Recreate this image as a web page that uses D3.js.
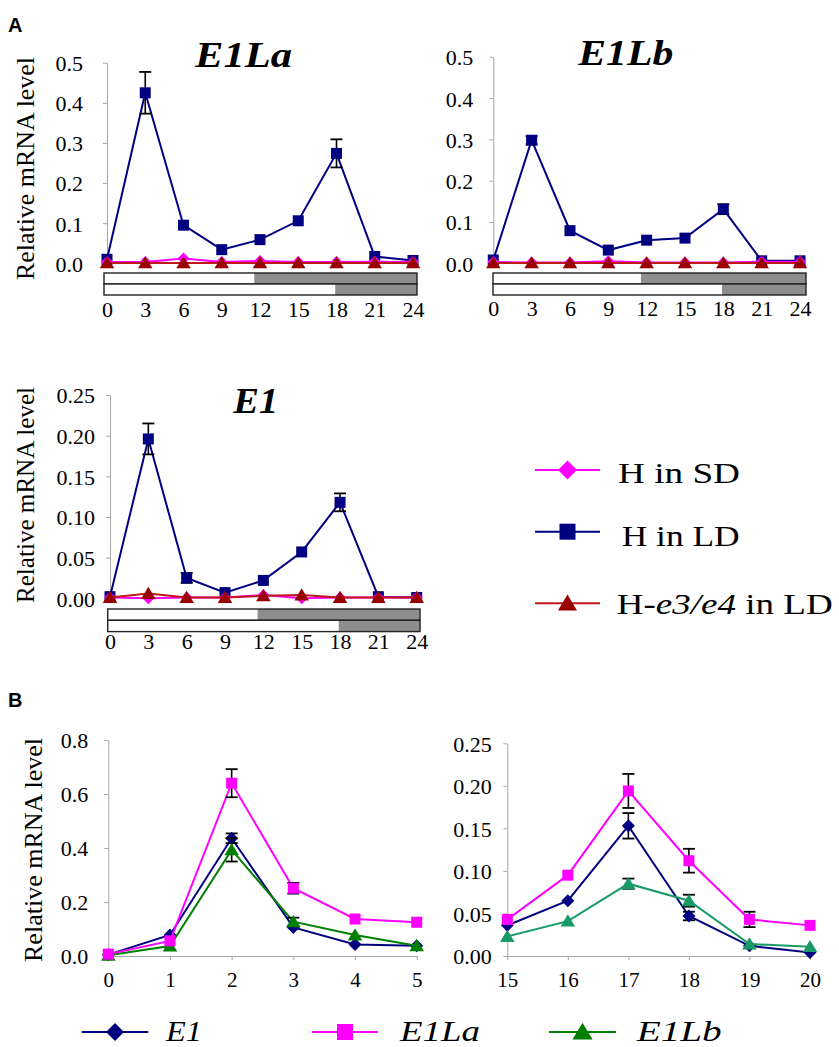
<!DOCTYPE html>
<html><head><meta charset="utf-8">
<script src="https://cdn.jsdelivr.net/npm/d3@7"></script>
<style>body{margin:0;background:#fff} svg{display:block}</style>
</head><body>
<svg id="c" width="839" height="1047"></svg>
<script>
// ---------- DATA ----------
const hoursA = [0, 3, 6, 9, 12, 15, 18, 21, 24];
const seriesNamesA = ["H in SD", "H in LD", "H-e3/e4 in LD"];

// E1La
const e1laSD   = [0.003, 0.003, 0.012, 0.003, 0.006, 0.003, 0.003, 0.004, 0.003];
const e1laLD   = [0.010, 0.425, 0.095, 0.034, 0.059, 0.106, 0.274, 0.017, 0.007];
const e1laLDerr= [0.002, 0.052, 0.006, 0.004, 0.005, 0.006, 0.035, 0.002, 0.002];
const e1laE34  = [0.001, 0.001, 0.001, 0.001, 0.001, 0.001, 0.001, 0.001, 0.001];
// E1Lb
const e1lbSD   = [0.003, 0.002, 0.002, 0.005, 0.002, 0.002, 0.002, 0.004, 0.004];
const e1lbLD   = [0.008, 0.298, 0.079, 0.032, 0.056, 0.061, 0.131, 0.006, 0.006];
const e1lbLDerr= [0.002, 0.010, 0.004, 0.003, 0.003, 0.004, 0.012, 0.001, 0.001];
const e1lbE34  = [0.001, 0.001, 0.001, 0.001, 0.001, 0.001, 0.001, 0.001, 0.001];
// E1
const e1SD     = [0.001, 0.000, 0.001, 0.001, 0.004, 0.000, 0.001, 0.001, 0.001];
const e1LD     = [0.002, 0.196, 0.025, 0.007, 0.022, 0.057, 0.118, 0.002, 0.001];
const e1LDerr  = [0.001, 0.019, 0.006, 0.002, 0.002, 0.003, 0.011, 0.001, 0.001];
const e1E34    = [0.001, 0.006, 0.001, 0.001, 0.003, 0.004, 0.001, 0.001, 0.001];

// light/dark bars: end of light period (SD row, LD row)
const lightEnd = [11.55, 17.9];

// Panel B
const hoursB1 = [0, 1, 2, 3, 4, 5];
const hoursB2 = [15, 16, 17, 18, 19, 20];
const seriesNamesB = ["E1", "E1La", "E1Lb"];
const b1E1     = [0.005, 0.078, 0.436, 0.106, 0.043, 0.038];
const b1E1err  = [0.002, 0.010, 0.018, 0.010, 0.006, 0.005];
const b1E1La   = [0.007, 0.056, 0.640, 0.251, 0.137, 0.125];
const b1E1Laerr= [0.003, 0.010, 0.052, 0.020, 0.008, 0.008];
const b1E1Lb   = [0.003, 0.037, 0.393, 0.127, 0.078, 0.038];
const b1E1Lberr= [0.002, 0.006, 0.043, 0.015, 0.008, 0.004];

const b2E1     = [0.036, 0.065, 0.153, 0.047, 0.012, 0.004];
const b2E1err  = [0.004, 0.004, 0.015, 0.005, 0.002, 0.002];
const b2E1La   = [0.043, 0.095, 0.194, 0.112, 0.043, 0.036];
const b2E1Laerr= [0.004, 0.004, 0.020, 0.014, 0.009, 0.004];
const b2E1Lb   = [0.023, 0.041, 0.085, 0.065, 0.014, 0.011];
const b2E1Lberr= [0.002, 0.002, 0.006, 0.007, 0.002, 0.004];

const ticksA  = [0, 0.1, 0.2, 0.3, 0.4, 0.5];
const ticksE1 = [0, 0.05, 0.10, 0.15, 0.20, 0.25];
const ticksB1 = [0, 0.2, 0.4, 0.6, 0.8];
const ticksB2 = [0, 0.05, 0.10, 0.15, 0.20, 0.25];

// ---------- STYLE ----------
const NAVY = "#000080", MAG = "#ff00ff", DRED = "#990000", RLINE = "#c01818";
const GREEN = "#008000", TEAL = "#179a66";
const GRAY = "#a6a6a6";

function pickFont(cands, generic) {
  const ctx = document.createElement("canvas").getContext("2d");
  const probe = "Relative mRNA level 0.123456789";
  const base = {};
  ["monospace", "sans-serif"].forEach(f => { ctx.font = "40px " + f; base[f] = ctx.measureText(probe).width; });
  for (const c of cands) {
    let ok = false;
    for (const f of ["monospace", "sans-serif"]) {
      ctx.font = `40px "${c}", ${f}`;
      if (Math.abs(ctx.measureText(probe).width - base[f]) > 0.5) ok = true;
    }
    if (ok) return `"${c}", ${generic}`;
  }
  return generic;
}
const SERIF = pickFont(["Liberation Serif", "Times New Roman", "Tinos", "Nimbus Roman", "FreeSerif", "Noto Serif", "DejaVu Serif"], "serif");
const SANS = pickFont(["Liberation Sans", "Arial", "Arimo", "Helvetica"], "sans-serif");
// Times-like advance widths for numeric labels (em)
function numWidth(str, size) {
  let w = 0;
  for (const ch of str) w += (ch === "." ? 0.25 : 0.5);
  return w * size;
}

const svg = d3.select("#c");

function marker(g, shape, cx, cy, s, fill) {
  if (shape === "square") {
    g.append("rect").attr("x", cx - s/2).attr("y", cy - s/2).attr("width", s).attr("height", s).attr("fill", fill);
  } else if (shape === "diamond") {
    g.append("path").attr("d", `M${cx},${cy - s/2}L${cx + s/2},${cy}L${cx},${cy + s/2}L${cx - s/2},${cy}Z`).attr("fill", fill);
  } else {
    g.append("path").attr("d", `M${cx},${cy - s*0.52}L${cx + s*0.56},${cy + s*0.42}L${cx - s*0.56},${cy + s*0.42}Z`).attr("fill", fill);
  }
}

function panel(cfg) {
  const g = svg.append("g");
  const x = d3.scaleLinear().domain(cfg.xDomain).range(cfg.xRange);
  const y = d3.scaleLinear().domain(cfg.yDomain).range(cfg.yRange);

  // y axis
  const ya = g.append("g").attr("transform", `translate(${cfg.xRange[0]},0)`)
    .call(d3.axisLeft(y).tickValues(cfg.yTicks).tickFormat(d3.format(cfg.yFmt))
      .tickSize(4).tickSizeOuter(0).tickPadding(cfg.labelGap - 4));
  ya.attr("font-family", null).attr("font-size", null);
  ya.select(".domain").attr("stroke", GRAY).attr("stroke-width", 1);
  ya.selectAll(".tick line").attr("stroke", GRAY);
  ya.selectAll("text").style("font-family", SERIF).style("font-size", cfg.yFont + "px").attr("fill", "#000")
    .attr("dy", "0.36em")
    .attr("textLength", function() { return numWidth(this.textContent, cfg.yFont); })
    .attr("lengthAdjust", "spacingAndGlyphs");

  // x axis
  const xa = g.append("g").attr("transform", `translate(0,${cfg.yRange[0]})`)
    .call(d3.axisBottom(x).tickValues(cfg.xTicks).tickFormat(d3.format("d"))
      .tickSize(cfg.xTickSize).tickSizeOuter(0));
  xa.attr("font-family", null).attr("font-size", null);
  xa.select(".domain").attr("stroke", cfg.xLine ? GRAY : "none");
  xa.selectAll(".tick line").attr("stroke", GRAY);
  xa.selectAll("text").style("font-family", SERIF).style("font-size", cfg.xFont + "px").attr("fill", "#000")
    .attr("y", cfg.xLabelBase - cfg.yRange[0]).attr("dy", 0)
    .attr("textLength", function() { return numWidth(this.textContent, cfg.xFont); })
    .attr("lengthAdjust", "spacingAndGlyphs");

  // light/dark bars
  if (cfg.bars) {
    const b = cfg.bars;
    lightEnd.forEach((le, i) => {
      const top = b.y + i * b.h;
      g.append("rect").attr("x", b.x0).attr("y", top).attr("width", x(le) - b.x0).attr("height", b.h).attr("fill", "#fff");
      g.append("rect").attr("x", x(le)).attr("y", top).attr("width", b.x1 - x(le)).attr("height", b.h).attr("fill", "#8e8e8e");
      g.append("rect").attr("x", b.x0).attr("y", top).attr("width", b.x1 - b.x0).attr("height", b.h)
        .attr("fill", "none").attr("stroke", "#222").attr("stroke-width", 1.4);
    });
  }

  // series
  cfg.series.forEach(s => {
    const pts = cfg.xTicks.map((h, i) => [h, s.values[i]]);
    g.append("path").datum(pts)
      .attr("d", d3.line().x(d => x(d[0])).y(d => y(d[1])))
      .attr("fill", "none").attr("stroke", s.line).attr("stroke-width", 2);
    if (s.err) {
      pts.forEach((p, i) => {
        const e = s.err[i];
        if (e * Math.abs(y(0) - y(1)) < 4) return;
        const cx = x(p[0]);
        const yt = y(p[1] + e), yb = y(p[1] - e);
        g.append("line").attr("x1", cx).attr("x2", cx).attr("y1", yt).attr("y2", yb).attr("stroke", "#000").attr("stroke-width", 1.6);
        [yt, yb].forEach(yy => g.append("line").attr("x1", cx - 6).attr("x2", cx + 6).attr("y1", yy).attr("y2", yy)
          .attr("stroke", "#000").attr("stroke-width", 1.8));
      });
    }
    pts.forEach(p => marker(g, s.shape, x(p[0]), y(p[1]), s.size, s.fill));
  });

  // title
  if (cfg.title) {
    g.append("text").attr("x", cfg.title.x).attr("y", cfg.title.y)
      .style("font-family", SERIF).attr("font-weight", "bold").attr("font-style", "italic")
      .attr("font-size", cfg.title.size).attr("textLength", cfg.title.w).attr("lengthAdjust", "spacingAndGlyphs")
      .text(cfg.title.text);
  }
  // y label
  if (cfg.ylabel) {
    const l = cfg.ylabel;
    g.append("text").attr("transform", `translate(${l.x},${l.y}) rotate(-90)`)
      .attr("text-anchor", "middle").attr("dy", "0.35em")
      .style("font-family", SERIF).attr("font-size", 25)
      .attr("textLength", l.len).attr("lengthAdjust", "spacingAndGlyphs")
      .text("Relative mRNA level");
  }
}

function seriesA(sd, ld, lderr, e34) {
  return [
    { values: ld, err: lderr, line: NAVY, fill: NAVY, shape: "square", size: 11 },
    { values: sd, err: null, line: MAG, fill: MAG, shape: "diamond", size: 12 },
    { values: e34, err: null, line: RLINE, fill: DRED, shape: "triangle", size: 13 }
  ];
}

panel({
  xDomain: [0, 24], xRange: [107, 413], yDomain: [0, 0.5], yRange: [263.3, 62.7],
  xTicks: hoursA, yTicks: ticksA, yFmt: ".1f", labelGap: 24, yFont: 22, xFont: 22,
  xTickSize: 0, xLine: false, xLabelBase: 317.5,
  bars: { x0: 104, x1: 417, y: 273, h: 11 },
  series: seriesA(e1laSD, e1laLD, e1laLDerr, e1laE34),
  title: { text: "E1La", x: 195, y: 66.7, size: 35, w: 97 },
  ylabel: { x: 25, y: 168.5, len: 223 }
});
panel({
  xDomain: [0, 24], xRange: [493.3, 800], yDomain: [0, 0.5], yRange: [263.3, 56.8],
  xTicks: hoursA, yTicks: ticksA, yFmt: ".1f", labelGap: 20, yFont: 22, xFont: 22,
  xTickSize: 0, xLine: false, xLabelBase: 316,
  bars: { x0: 493, x1: 806, y: 273, h: 11 },
  series: seriesA(e1lbSD, e1lbLD, e1lbLDerr, e1lbE34),
  title: { text: "E1Lb", x: 578.3, y: 65, size: 35, w: 95 }
});
panel({
  xDomain: [0, 24], xRange: [110, 416.7], yDomain: [0, 0.25], yRange: [598.3, 395],
  xTicks: hoursA, yTicks: ticksE1, yFmt: ".2f", labelGap: 15, yFont: 22, xFont: 22,
  xTickSize: 0, xLine: false, xLabelBase: 649.5,
  bars: { x0: 107.7, x1: 420, y: 609, h: 11.3 },
  series: seriesA(e1SD, e1LD, e1LDerr, e1E34),
  title: { text: "E1", x: 233.3, y: 413, size: 36, w: 45 },
  ylabel: { x: 25, y: 495, len: 216 }
});

function seriesB(e1, e1e, la, lae, lb, lbe, green) {
  return [
    { values: e1, err: e1e, line: NAVY, fill: NAVY, shape: "diamond", size: 13 },
    { values: lb, err: lbe, line: green, fill: green, shape: "triangle", size: 13 },
    { values: la, err: lae, line: MAG, fill: MAG, shape: "square", size: 11 }
  ];
}
panel({
  xDomain: [0, 5], xRange: [108.3, 416.7], yDomain: [0, 0.8], yRange: [956, 740],
  xTicks: hoursB1, yTicks: ticksB1, yFmt: ".1f", labelGap: 20, yFont: 22, xFont: 21,
  xTickSize: 4, xLine: true, xLabelBase: 987,
  series: seriesB(b1E1, b1E1err, b1E1La, b1E1Laerr, b1E1Lb, b1E1Lberr, GREEN),
  ylabel: { x: 33, y: 850, len: 224 }
});
panel({
  xDomain: [15, 20], xRange: [507.3, 810], yDomain: [0, 0.25], yRange: [956, 743.3],
  xTicks: hoursB2, yTicks: ticksB2, yFmt: ".2f", labelGap: 15.6, yFont: 22, xFont: 21,
  xTickSize: 4, xLine: true, xLabelBase: 987,
  series: seriesB(b2E1, b2E1err, b2E1La, b2E1Laerr, b2E1Lb, b2E1Lberr, TEAL)
});

// panel letters
svg.append("text").attr("x", 8).attr("y", 31.7).style("font-family", SANS).attr("font-weight", "bold").attr("font-size", 20).text("A");
svg.append("text").attr("x", 8).attr("y", 706.7).style("font-family", SANS).attr("font-weight", "bold").attr("font-size", 20).text("B");

// legend A
const legA = [
  { y: 470, line: MAG, fill: MAG, shape: "diamond", size: 19, tx: 618, base: 483.3, w: 122 },
  { y: 531.7, line: NAVY, fill: NAVY, shape: "square", size: 16, tx: 621.7, base: 546, w: 118 },
  { y: 603.3, line: RLINE, fill: DRED, shape: "triangle", size: 17, tx: 616.7, base: 614, w: 216 }
];
legA.forEach((d, i) => {
  const g = svg.append("g");
  g.append("line").attr("x1", 535).attr("x2", 600).attr("y1", d.y).attr("y2", d.y).attr("stroke", d.line).attr("stroke-width", 2);
  marker(g, d.shape, 567.5, d.y, d.size, d.fill);
  const t = g.append("text").attr("x", d.tx).attr("y", d.base).style("font-family", SERIF).attr("font-size", 30)
    .attr("textLength", d.w).attr("lengthAdjust", "spacingAndGlyphs");
  const name = seriesNamesA[i];
  if (name.includes("e3/e4")) {
    t.append("tspan").text("H-");
    t.append("tspan").attr("font-style", "italic").text("e3/e4");
    t.append("tspan").text(" in LD");
  } else t.text(name);
});

// legend B
const legB = [
  { x0: 81.7, x1: 148.3, line: NAVY, fill: NAVY, shape: "diamond", size: 18, tx: 166, w: 36 },
  { x0: 312, x1: 378, line: MAG, fill: MAG, shape: "square", size: 16, tx: 400, w: 80 },
  { x0: 549, x1: 616, line: GREEN, fill: GREEN, shape: "triangle", size: 18, tx: 636.7, w: 85 }
];
legB.forEach((d, i) => {
  const g = svg.append("g");
  const yy = 1032;
  g.append("line").attr("x1", d.x0).attr("x2", d.x1).attr("y1", yy).attr("y2", yy).attr("stroke", d.line).attr("stroke-width", 2);
  marker(g, d.shape, (d.x0 + d.x1) / 2, yy, d.size, d.fill);
  g.append("text").attr("x", d.tx).attr("y", 1041).style("font-family", SERIF).attr("font-style", "italic")
    .attr("font-size", 30).attr("textLength", d.w).attr("lengthAdjust", "spacingAndGlyphs").text(seriesNamesB[i]);
});
</script>
</body></html>
